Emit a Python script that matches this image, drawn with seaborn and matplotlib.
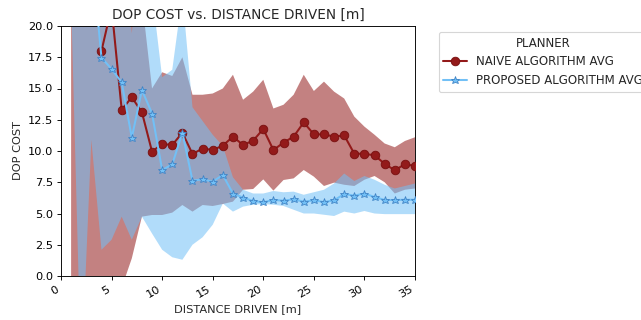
import numpy as np
import pandas as pd
import matplotlib
matplotlib.use("Agg")
import matplotlib.pyplot as plt
import seaborn as sns

nan = np.nan

distance = list(range(1, 36))

naive_avg = [nan, nan, nan, 18.0, 21.5, 13.3, 14.3, 13.1, 9.95, 10.56,
             10.48, 11.47, 9.76, 10.2, 10.08, 10.43, 11.15, 10.48, 10.83, 11.76,
             10.08, 10.67, 11.15, 12.29, 11.33, 11.33, 11.15, 11.25, 9.78, 9.78,
             9.65, 8.98, 8.45, 8.95, 8.8]
naive_upper = [45, 42, 38, 34, 30, 27, 25, 22.1, 15.0, 16.3,
               16.0, 17.5, 14.5, 14.5, 14.6, 15.0, 16.1, 14.1, 14.75, 15.7,
               13.4, 13.7, 14.5, 16.1, 14.8, 15.55, 14.75, 14.2, 12.75, 11.95,
               11.3, 10.6, 10.3, 10.8, 11.1]
naive_lower = [-8, -6, -5, -4, -2, -0.94, 1.41, 4.75, 4.88, 4.88,
               5.07, 5.68, 5.15, 5.68, 5.6, 5.76, 5.95, 6.9, 6.96, 7.73,
               6.83, 7.68, 7.81, 8.48, 7.95, 7.2, 7.47, 7.3, 7.2, 7.7,
               8.0, 7.5, 6.6, 6.9, 7.0]

proposed_avg = [nan, nan, 26.1, 17.47, 16.56, 15.49, 11.07, 14.88, 13.0, 8.48,
                8.93, 11.47, 7.63, 7.73, 7.55, 8.08, 6.6, 6.27, 6.0, 5.9,
                6.08, 6.03, 6.13, 5.95, 6.05, 5.92, 6.05, 6.56, 6.43, 6.6,
                6.32, 6.08, 6.08, 6.1, 6.1]
proposed_upper = [45, 42, 38, 34, 30, 28, 19.4, 28, 22.7, 15.9,
                  16.5, 22.5, 13.5, 12.4, 11.3, 10.4, 7.9, 6.9, 6.6, 6.6,
                  6.8, 6.7, 6.75, 6.5, 6.7, 6.9, 7.4, 8.2, 7.6, 8.0,
                  7.7, 7.3, 7.0, 7.2, 7.4]
proposed_lower = [22, -8, 10.9, 2.1, 2.9, 4.75, 2.9, 4.75, 3.4, 2.1,
                  1.5, 1.3, 2.5, 3.1, 4.1, 5.8, 5.15, 5.55, 5.7, 5.75,
                  5.7, 5.6, 5.3, 5.0, 5.0, 4.9, 4.8, 5.15, 5.0, 5.2,
                  5.0, 4.95, 4.95, 4.95, 4.95]

planners = ["NAIVE ALGORITHM AVG", "PROPOSED ALGORITHM AVG"]
x_ticks = [0, 5, 10, 15, 20, 25, 30, 35]

RED = "#931A1A"
BLUE = "#72C0F6"

sns.set_style("ticks")

DPI = 82
fig = plt.figure(figsize=(641 / DPI, 320 / DPI), dpi=DPI)
ax = fig.add_axes([61 / 641, 1 - 276 / 320, 354 / 641, 250 / 320])

ax.fill_between(distance, naive_lower, naive_upper, color=RED, alpha=0.55,
                linewidth=0, zorder=1)
ax.fill_between(distance, proposed_lower, proposed_upper, color=BLUE,
                alpha=0.55, linewidth=0, zorder=1.1)

df_naive = pd.DataFrame({"distance": distance, "cost": naive_avg}).dropna()
df_prop = pd.DataFrame({"distance": distance, "cost": proposed_avg}).dropna()

sns.lineplot(data=df_naive, x="distance", y="cost", ax=ax, color=RED,
             marker="o", markersize=7.5, markeredgecolor="#7A1212",
             markeredgewidth=0.8, linewidth=1.8, label=planners[0], zorder=3)
sns.lineplot(data=df_prop, x="distance", y="cost", ax=ax, color=BLUE,
             marker="*", markersize=7.5, markeredgecolor="#3F82C4",
             markeredgewidth=0.7, linewidth=1.8, label=planners[1], zorder=4)

ax.set_xlim(0, 35)
ax.set_ylim(0, 20)
ax.set_xticks(x_ticks)
for lab in ax.get_xticklabels():
    lab.set_rotation(30)
    lab.set_ha("right")
for s in ax.spines.values():
    s.set_color("black")
ax.tick_params(colors="black")

ax.set_title("DOP COST vs. DISTANCE DRIVEN [m]")
ax.set_xlabel("DISTANCE DRIVEN [m]")
ax.set_ylabel("DOP COST")

ax.legend(title="PLANNER", loc="upper left", bbox_to_anchor=(1.05, 1),
          fontsize=10.3, title_fontsize=10.3)

fig.savefig("out.png", dpi=DPI)
